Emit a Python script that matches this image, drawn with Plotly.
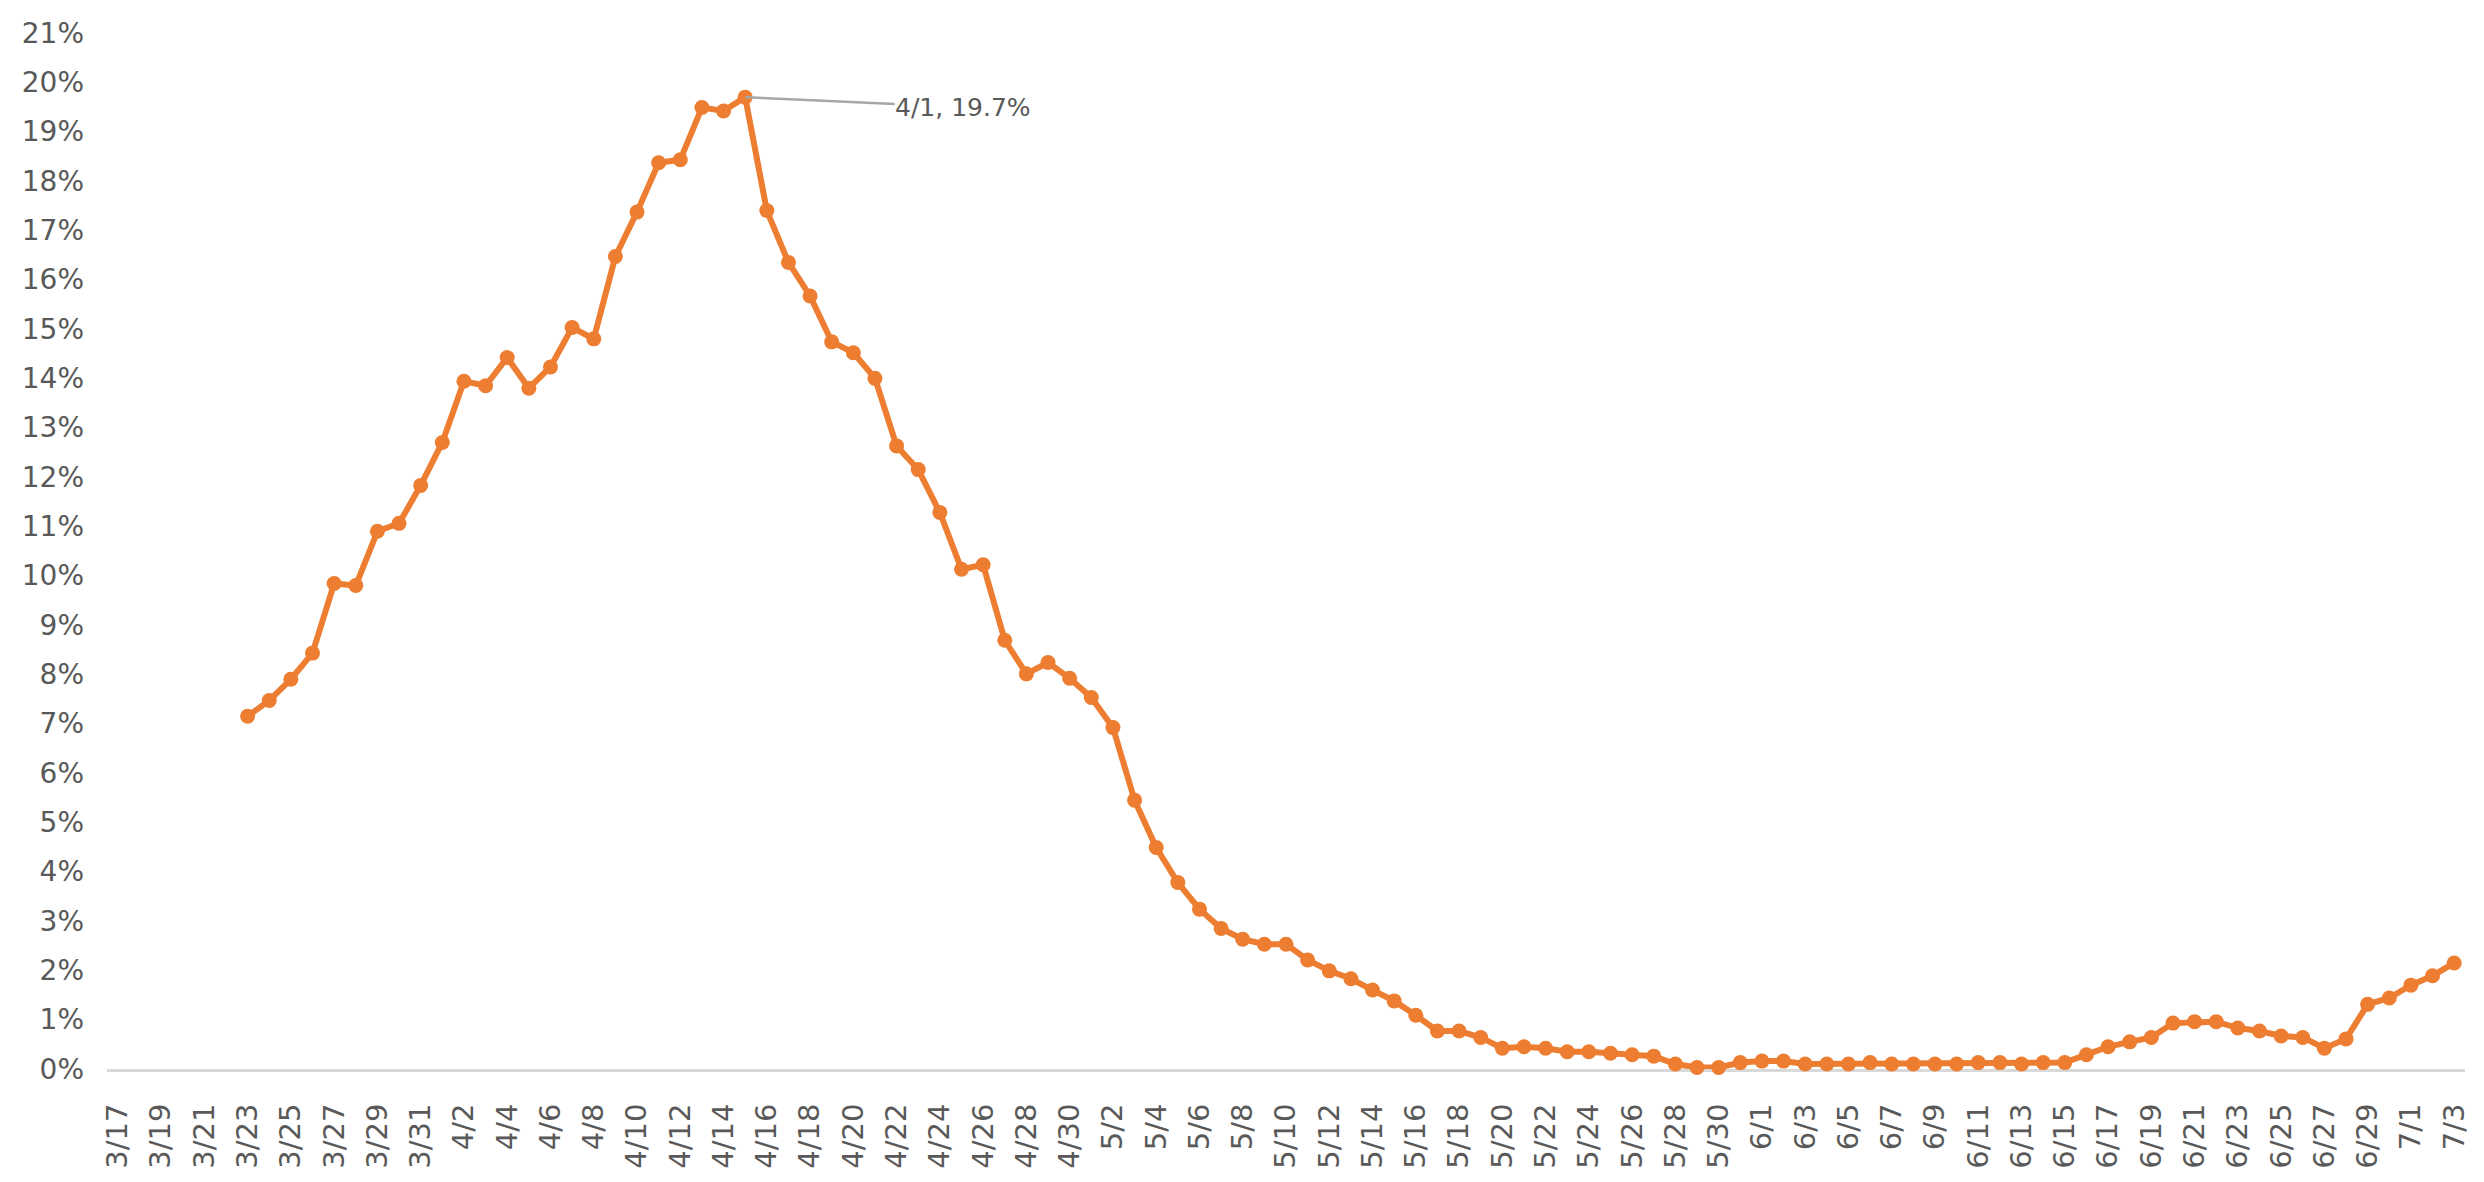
import pandas as pd
import plotly.graph_objects as go

# Daily categories shown on the x axis (3/17 through 7/3)
dates = [f"{d.month}/{d.day}" for d in pd.date_range("2020-03-17", "2020-07-03")]

# Daily rate (%) reported from 3/23 onward
first_reported = "3/23"
rate = [
    7.15, 7.47, 7.90, 8.43, 9.84, 9.80, 10.90, 11.06, 11.83,            # 3/23 - 3/31
    12.70, 13.94, 13.85, 14.42, 13.80, 14.23, 15.03, 14.80, 16.47, 17.37,  # 4/1 - 4/10
    18.37, 18.43, 19.49, 19.42, 19.70, 17.40, 16.35, 15.67, 14.74, 14.52,  # 4/11 - 4/20
    14.00, 12.63, 12.15, 11.28, 10.13, 10.22, 8.69, 8.01, 8.24, 7.92,      # 4/21 - 4/30
    7.53, 6.92, 5.45, 4.49, 3.78, 3.24, 2.85, 2.63, 2.53, 2.53,            # 5/1 - 5/10
    2.21, 1.99, 1.83, 1.60, 1.38, 1.09, 0.77, 0.77, 0.64, 0.42,            # 5/11 - 5/20
    0.45, 0.42, 0.35, 0.35, 0.32, 0.29, 0.26, 0.10, 0.03, 0.03, 0.13,      # 5/21 - 5/31
    0.16, 0.16, 0.10, 0.10, 0.10, 0.13, 0.10, 0.10, 0.10, 0.10,            # 6/1 - 6/10
    0.13, 0.13, 0.10, 0.13, 0.13, 0.29, 0.45, 0.55, 0.64, 0.93,            # 6/11 - 6/20
    0.96, 0.96, 0.83, 0.77, 0.67, 0.64, 0.42, 0.61, 1.31, 1.44,            # 6/21 - 6/30
    1.70, 1.89, 2.15,                                                      # 7/1 - 7/3
]

# Callout for the peak
peak_label = "4/1, 19.7%"

start = dates.index(first_reported)
x_vals = dates[start:start + len(rate)]
peak_i = max(range(len(rate)), key=lambda i: rate[i])

ORANGE = "#ED7D31"
TEXT = "#595959"
FONT = "DejaVu Sans"

fig = go.Figure()
fig.add_trace(go.Scatter(
    x=x_vals,
    y=rate,
    mode="lines+markers",
    line=dict(color=ORANGE, width=6),
    marker=dict(color=ORANGE, size=15),
    cliponaxis=False,
    hoverinfo="skip",
))

fig.add_annotation(
    x=x_vals[peak_i], y=rate[peak_i],
    text=peak_label,
    showarrow=True, arrowhead=0, arrowwidth=2.5, arrowcolor="#A6A6A6",
    ax=218, ay=10,
    font=dict(family=FONT, size=25, color=TEXT),
    xanchor="center", borderpad=0,
)

fig.update_layout(
    width=2484, height=1182,
    margin=dict(l=107, r=19, t=33, b=113),
    paper_bgcolor="white", plot_bgcolor="white",
    showlegend=False,
    font=dict(family=FONT, color=TEXT),
)

fig.update_xaxes(
    type="category",
    categoryorder="array", categoryarray=dates,
    range=[-0.5, len(dates) - 0.5],
    tickmode="array", tickvals=dates[::2], ticktext=dates[::2],
    tickangle=-90,
    tickfont=dict(family=FONT, size=29, color=TEXT),
    ticklabelstandoff=20,
    showgrid=False, zeroline=False,
    showline=True, linecolor="#D9D9D9", linewidth=3,
    ticks="", layer="below traces",
)

fig.update_yaxes(
    range=[0, 21], dtick=1, tick0=0,
    ticksuffix="%",
    tickfont=dict(family=FONT, size=28, color=TEXT),
    ticklabelstandoff=22,
    showgrid=False, zeroline=False, showline=False, ticks="",
)

fig.write_html("out.html")
